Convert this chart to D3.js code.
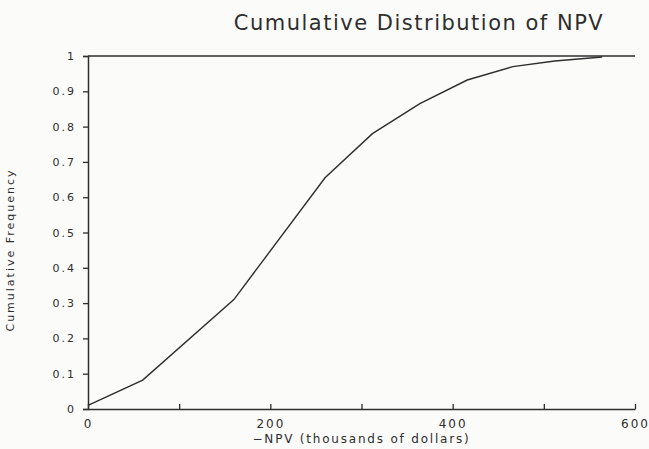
<!DOCTYPE html>
<html>
<head>
<meta charset="utf-8">
<script src="https://cdn.jsdelivr.net/npm/d3@7"></script>
<style>
  body { margin: 0; background: #fbfbfa; }
  svg { display: block; }
  text { font-family: "DejaVu Sans", sans-serif; fill: #2e2e2e; }
</style>
</head>
<body>
<svg id="chart"></svg>
<script>
// NPV (thousands of dollars) vs cumulative frequency
const npv = [0, 60, 160, 260, 312, 364, 416, 466, 512, 564];
const cumFreq = [0.01, 0.082, 0.31, 0.655, 0.78, 0.865, 0.932, 0.97, 0.986, 0.997];
const yTicks = [0, 0.1, 0.2, 0.3, 0.4, 0.5, 0.6, 0.7, 0.8, 0.9, 1];
const xTicks = [0, 100, 200, 300, 400, 500, 600];
const xLabels = [0, 200, 400, 600];

const width = 649, height = 449;
const margin = { top: 56, right: 14, bottom: 40, left: 88 };

const svg = d3.select("#chart")
  .attr("width", width)
  .attr("height", height);

const x = d3.scaleLinear().domain([0, 600]).range([margin.left, width - margin.right]);
const y = d3.scaleLinear().domain([0, 1]).range([height - margin.bottom, margin.top]);

const ink = "#2e2e2e";

// y axis
const yAxis = svg.append("g")
  .attr("transform", `translate(${margin.left},0)`)
  .call(d3.axisLeft(y).tickValues(yTicks).tickSize(5).tickPadding(7)
    .tickFormat(d => d === 0 ? "0" : d === 1 ? "1" : d3.format(".1f")(d)));
yAxis.select(".domain").attr("stroke", ink).attr("stroke-width", 1.5);
yAxis.selectAll(".tick line").attr("stroke", ink).attr("stroke-width", 1.3);
yAxis.selectAll(".tick text").style("font-size", "11px").style("letter-spacing", "2px").attr("fill", ink);

// x axis, ticks pointing up into the plot
const xAxis = svg.append("g")
  .attr("transform", `translate(0,${y(0)})`)
  .call(d3.axisBottom(x).tickValues(xTicks).tickSizeInner(-5).tickSizeOuter(0).tickPadding(10)
    .tickFormat(d => xLabels.includes(d) ? d : ""));
xAxis.select(".domain").attr("stroke", ink).attr("stroke-width", 1.5);
xAxis.selectAll(".tick line").attr("stroke", ink).attr("stroke-width", 1.3);
xAxis.selectAll(".tick text").style("font-size", "12px").style("letter-spacing", "2px").attr("fill", ink);

// top frame line
svg.append("line")
  .attr("x1", x(0)).attr("x2", x(600))
  .attr("y1", y(1)).attr("y2", y(1))
  .attr("stroke", ink).attr("stroke-width", 1.5);

// curve
const line = d3.line().x((d, i) => x(npv[i])).y(d => y(d));
svg.append("path")
  .datum(cumFreq)
  .attr("d", line)
  .attr("fill", "none")
  .attr("stroke", ink)
  .attr("stroke-width", 1.4);

// title
svg.append("text")
  .attr("x", 419).attr("y", 30)
  .attr("text-anchor", "middle")
  .style("font-size", "21px")
  .style("letter-spacing", "1.5px")
  .text("Cumulative Distribution of NPV");

// axis titles
svg.append("text")
  .attr("x", (x(0) + x(600)) / 2).attr("y", 443)
  .attr("text-anchor", "middle")
  .style("font-size", "12px")
  .style("letter-spacing", "1.8px")
  .text("\u2212NPV (thousands of dollars)");

svg.append("text")
  .attr("transform", `translate(14,250) rotate(-90)`)
  .attr("text-anchor", "middle")
  .style("font-size", "11px")
  .style("letter-spacing", "2px")
  .text("Cumulative Frequency");
</script>
</body>
</html>
